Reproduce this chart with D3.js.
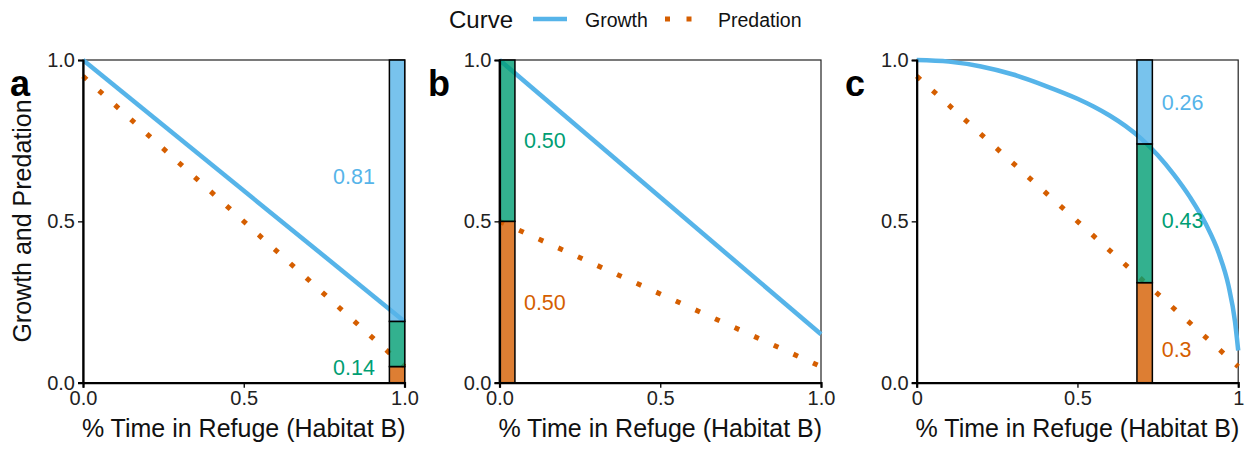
<!DOCTYPE html>
<html>
<head>
<meta charset="utf-8">
<title>Growth and Predation</title>
<script src="https://cdn.jsdelivr.net/npm/d3@7"></script>
<style>
  body { margin: 0; background: #fff; }
  svg { font-family: "Liberation Sans", Arial, sans-serif; }
</style>
</head>
<body>
<div id="chart"></div>
<script>
// values
var refuge = [0, 1];
var growthA = [1.0, 0.19];
var predA = [0.95, 0.05];
var growthB = [1.0, 0.15];
var predB = [0.50, 0.05];
var refugeC = [0, 0.1, 0.2, 0.3, 0.4, 0.5, 0.55, 0.6, 0.65, 0.7, 0.75, 0.8, 0.85, 0.9, 0.94, 0.97, 0.99, 1.0];
var growthC = [1.0, 0.995, 0.98, 0.955, 0.92, 0.88, 0.856, 0.828, 0.795, 0.755, 0.705, 0.645, 0.575, 0.49, 0.40, 0.30, 0.19, 0.10];
var predC = [0.95, 0.05];

// stacked bar: predation, difference, growth
var barA = [0.05, 0.14, 0.81];
var barB = [0.50, 0.50, 0];
var barC = [0.31, 0.43, 0.26];
var barAt = [0.953, 0, 0.685];

var labelsA = ["0.81", "0.14"];
var labelsB = ["0.50", "0.50"];
var labelsC = ["0.26", "0.43", "0.3"];
var panelNames = ["a", "b", "c"];
var yTicks = [0, 0.5, 1];

var W = 1253, H = 452;
var blue = "#56B4E9", green = "#009E73", orange = "#D55E00";
var segColors = [orange, green, blue];

var svg = d3.select("#chart").append("svg")
  .attr("width", W).attr("height", H);

var plotTop = 60, plotBottom = 382.7, pw = 321.5;
var lefts = [83, 499.5, 916.7];

var panels = [
  { growth: { x: refuge, y: growthA }, pred: predA, bar: barA, at: barAt[0],
    labels: [
      { t: labelsA[0], c: blue, x: 0.908, y: 0.615, a: "end" },
      { t: labelsA[1], c: green, x: 0.908, y: 0.024, a: "end" } ],
    fmt: d3.format(".1f") },
  { growth: { x: refuge, y: growthB }, pred: predB, bar: barB, at: barAt[1],
    labels: [
      { t: labelsB[0], c: green, x: 0.076, y: 0.727, a: "start" },
      { t: labelsB[1], c: orange, x: 0.076, y: 0.225, a: "start" } ],
    fmt: d3.format(".1f") },
  { growth: { x: refugeC, y: growthC }, pred: predC, bar: barC, at: barAt[2],
    labels: [
      { t: labelsC[0], c: blue, x: 0.762, y: 0.846, a: "start" },
      { t: labelsC[1], c: green, x: 0.762, y: 0.479, a: "start" },
      { t: labelsC[2], c: orange, x: 0.762, y: 0.08, a: "start" } ],
    fmt: function(d){ return d === 0.5 ? "0.5" : d3.format("d")(d); } }
];

panels.forEach(function(p, i){
  var x = d3.scaleLinear().domain([0, 1]).range([lefts[i], lefts[i] + pw]);
  var y = d3.scaleLinear().domain([0, 1]).range([plotBottom, plotTop]);
  var g = svg.append("g");

  // thin frame
  g.append("rect")
    .attr("x", x(0)).attr("y", y(1))
    .attr("width", pw).attr("height", plotBottom - plotTop)
    .attr("fill", "none").attr("stroke", "#222").attr("stroke-width", 1.2);

  // predation (dotted)
  var predLine = d3.line()
    .x(function(d, k){ return x(refuge[k]); })
    .y(function(d){ return y(d); });
  g.append("path").datum(p.pred)
    .attr("d", predLine)
    .attr("fill", "none").attr("stroke", orange)
    .attr("stroke-width", 5).attr("stroke-dasharray", "5,16.5");

  // growth
  var growthLine = d3.line()
    .x(function(d, k){ return x(p.growth.x[k]); })
    .y(function(d){ return y(d); })
    .curve(d3.curveMonotoneX);
  g.append("path").datum(p.growth.y)
    .attr("d", growthLine)
    .attr("fill", "none").attr("stroke", blue).attr("stroke-width", 4.5);

  // stacked bar
  var cum = 0;
  var segs = p.bar.map(function(v, k){
    var s = { y0: cum, y1: cum + v, c: segColors[k] };
    cum += v;
    return s;
  }).filter(function(s){ return s.y1 > s.y0; });
  g.selectAll("rect.seg").data(segs).enter().append("rect")
    .attr("class", "seg")
    .attr("x", x(p.at)).attr("width", x(p.at + 0.048) - x(p.at))
    .attr("y", function(s){ return y(s.y1); })
    .attr("height", function(s){ return y(s.y0) - y(s.y1); })
    .attr("fill", function(s){ return s.c; }).attr("fill-opacity", 0.8)
    .attr("stroke", "#000").attr("stroke-width", 1.5);

  // value labels
  g.selectAll("text.val").data(p.labels).enter().append("text")
    .attr("class", "val")
    .attr("x", function(d){ return x(d.x); })
    .attr("y", function(d){ return y(d.y); })
    .attr("text-anchor", function(d){ return d.a; })
    .attr("fill", function(d){ return d.c; })
    .style("font-size", "21.5px")
    .text(function(d){ return d.t; });

  // axes
  var xa = g.append("g").attr("transform", "translate(0," + plotBottom + ")")
    .call(d3.axisBottom(x).tickValues(yTicks).tickFormat(p.fmt).tickSize(5).tickPadding(3));
  var ya = g.append("g").attr("transform", "translate(" + x(0) + ",0)")
    .call(d3.axisLeft(y).tickValues(yTicks).tickFormat(d3.format(".1f")).tickSize(5).tickPadding(3));
  [xa, ya].forEach(function(a){
    a.select(".domain").attr("stroke", "#000").attr("stroke-width", 2.2);
    a.selectAll(".tick line").attr("stroke", "#000").attr("stroke-width", 1.3);
    a.selectAll(".tick text").attr("fill", "#222").style("font-size", "20px")
      .style("font-family", "'Liberation Sans', Arial, sans-serif");
  });

  // x title
  g.append("text")
    .attr("x", x(0.5)).attr("y", 437)
    .attr("text-anchor", "middle").attr("fill", "#111")
    .style("font-size", "25px")
    .text("% Time in Refuge (Habitat B)");

  // panel tag
  g.append("text")
    .attr("x", [10, 428, 845][i]).attr("y", 96)
    .style("font-size", "36px").style("font-weight", "bold")
    .text(panelNames[i]);
});

// y title
svg.append("text")
  .attr("transform", "translate(31,221) rotate(-90)")
  .attr("text-anchor", "middle").attr("fill", "#111")
  .style("font-size", "25px")
  .text("Growth and Predation");

// legend
var lg = svg.append("g");
lg.append("text").attr("x", 449).attr("y", 28)
  .style("font-size", "24px").attr("fill", "#111").text("Curve");
lg.append("line").attr("x1", 533).attr("x2", 567).attr("y1", 19).attr("y2", 19)
  .attr("stroke", blue).attr("stroke-width", 4.5);
lg.append("text").attr("x", 585).attr("y", 27)
  .style("font-size", "19.5px").attr("fill", "#111").text("Growth");
lg.append("line").attr("x1", 665).attr("x2", 692).attr("y1", 19).attr("y2", 19)
  .attr("stroke", orange).attr("stroke-width", 5).attr("stroke-dasharray", "5,16.5");
lg.append("text").attr("x", 718).attr("y", 27)
  .style("font-size", "19.5px").attr("fill", "#111").text("Predation");
</script>
</body>
</html>
